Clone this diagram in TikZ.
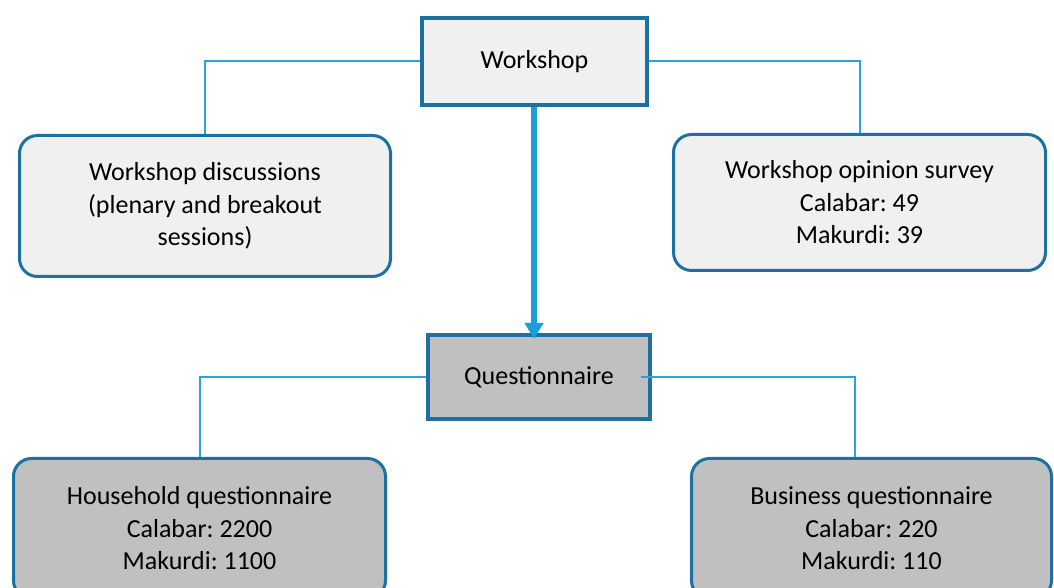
\documentclass[tikz,border=0pt]{standalone}
\usepackage{fontspec}
\setmainfont{Carlito}
\usetikzlibrary{arrows.meta}
\definecolor{boxline}{HTML}{1B71A1}
\definecolor{conn}{HTML}{2AA4E0}
\definecolor{arrowc}{HTML}{1E9DDB}
\definecolor{lightfill}{HTML}{F0F0F0}
\definecolor{grayfill}{HTML}{C0C0C0}
\begin{document}
\frenchspacing
\begin{tikzpicture}[x=1pt,y=1pt,
  txt/.style={font=\fontsize{26}{32.5}\selectfont\frenchspacing, align=center, text=black, inner sep=0pt},
  sqbox/.style={txt, draw=boxline, line width=4pt, rectangle},
  rbox/.style={txt, draw=boxline, line width=3pt, rectangle, rounded corners=18pt},
  thin/.style={draw=conn, line width=2pt},
  bigarrow/.style={draw=arrowc, line width=6pt, -{Triangle[width=18pt,length=16pt]}}]
\clip (0,0) rectangle (1054,588);
\fill[white] (0,0) rectangle (1054,588);
\node[sqbox, fill=lightfill, minimum width=225pt, minimum height=87pt] (W) at (534.5,526.5) {Workshop};
\node[rbox, fill=lightfill, minimum width=371pt, minimum height=141pt] (L) at (205,382) {Workshop discussions\\(plenary and breakout\\sessions)};
\node[rbox, fill=lightfill, minimum width=372pt, minimum height=136pt] (R) at (859.5,385.5) {Workshop opinion survey\\Calabar: 49\\Makurdi: 39};
\node[sqbox, fill=grayfill, minimum width=222pt, minimum height=84pt] (Q) at (539,211) {Questionnaire};
\node[rbox, fill=grayfill, minimum width=372pt, minimum height=140pt] (BL) at (199.5,59.5) {Household questionnaire\\Calabar: 2200\\Makurdi: 1100};
\node[rbox, fill=grayfill, minimum width=360pt, minimum height=140pt] (BR) at (871.5,59.5) {Business questionnaire\\Calabar: 220\\Makurdi: 110};
\draw[thin] (W.west) -| (L.north);
\draw[thin] (W.east) -| (R.north);
\draw[thin] (Q.west) -| (BL.north);
\draw[thin] ([xshift=-11pt]Q.east) -| ([xshift=-16.5pt]BR.north);
\draw[bigarrow, shorten >=-6pt] ([xshift=-0.5pt]W.south) -- ([xshift=-0.5pt]W.south |- Q.north);
\end{tikzpicture}
\end{document}
